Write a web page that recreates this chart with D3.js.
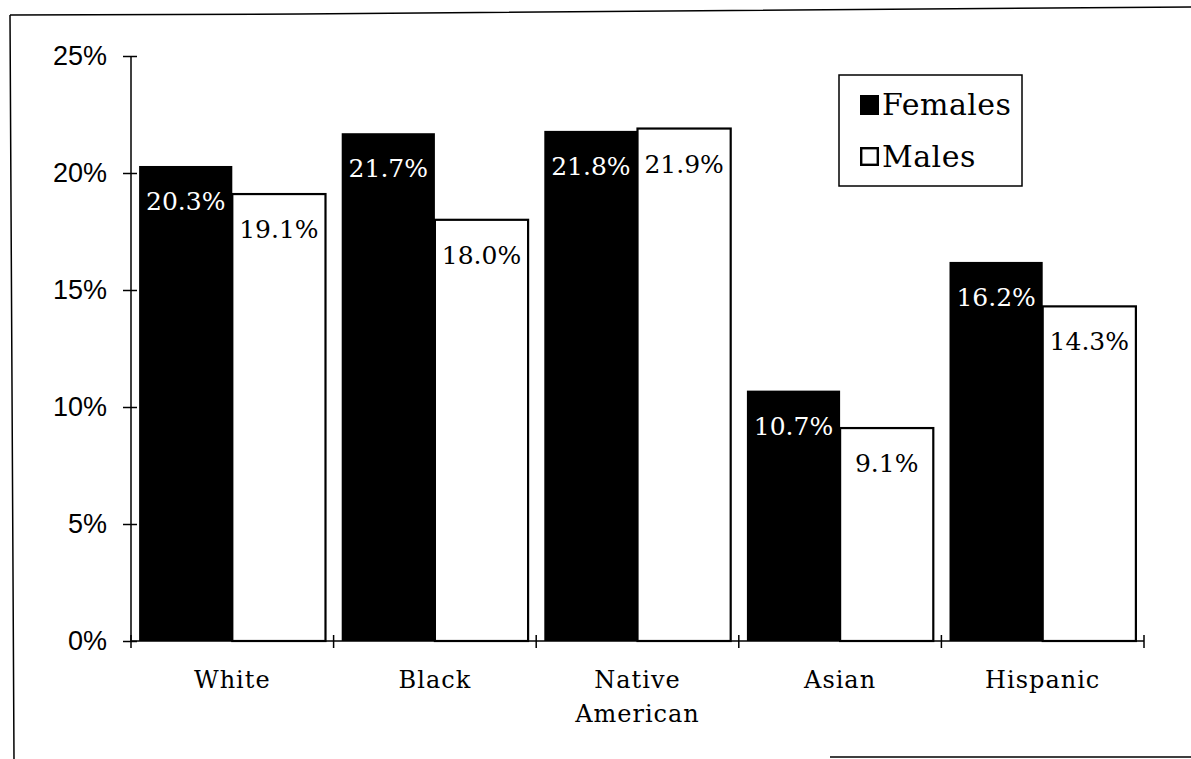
<!DOCTYPE html>
<html>
<head>
<meta charset="utf-8">
<script src="https://cdn.jsdelivr.net/npm/d3@7"></script>
<style>
  body { margin: 0; background: #fff; }
  svg { display: block; }
</style>
</head>
<body>
<script>
var width = 1191, height = 759;

// data
var categories = ["White", "Black", "Native American", "Asian", "Hispanic"];
var females = [20.3, 21.7, 21.8, 10.7, 16.2];
var males = [19.1, 18.0, 21.9, 9.1, 14.3];
var series = ["Females", "Males"];
var yTicks = [0, 5, 10, 15, 20, 25];

var svg = d3.select("body")
  .append("svg")
  .attr("width", width)
  .attr("height", height);

// scanned page frame
svg.append("path")
  .attr("d", "M10,15 L300,14 L1191,7 M10,15 L14,759 M830,757 L1191,757")
  .attr("fill", "none")
  .attr("stroke", "#000")
  .attr("stroke-width", 1.5);

var x = d3.scaleBand()
  .domain(categories)
  .range([131, 1144])
  .paddingInner(0.08)
  .paddingOuter(0.04);

var x1 = d3.scaleBand()
  .domain(series)
  .range([0, x.bandwidth()]);

var y = d3.scaleLinear()
  .domain([0, 25])
  .range([641, 56]);

var rows = categories.map(function (c, i) {
  return { cat: c, values: [
    { key: "Females", v: females[i] },
    { key: "Males", v: males[i] }
  ]};
});

// bars
var g = svg.selectAll("g.cat")
  .data(rows)
  .enter()
  .append("g")
  .attr("class", "cat")
  .attr("transform", d => "translate(" + x(d.cat) + ",0)");

g.selectAll("rect")
  .data(d => d.values)
  .enter()
  .append("rect")
  .attr("x", d => x1(d.key))
  .attr("y", d => y(d.v))
  .attr("width", x1.bandwidth())
  .attr("height", d => y(0) - y(d.v))
  .attr("fill", d => d.key === "Females" ? "#000" : "#fff")
  .attr("stroke", d => d.key === "Females" ? "none" : "#000")
  .attr("stroke-width", 2.2);

g.selectAll("text")
  .data(d => d.values)
  .enter()
  .append("text")
  .attr("x", d => x1(d.key) + x1.bandwidth() / 2)
  .attr("y", d => y(d.v) + 44)
  .attr("text-anchor", "middle")
  .attr("font-family", "DejaVu Serif")
  .attr("font-size", 25)
  .attr("fill", d => d.key === "Females" ? "#fff" : "#000")
  .text(d => d.v.toFixed(1) + "%");

// y axis, ticks cross the line
var yAxis = svg.append("g")
  .attr("transform", "translate(131,0)")
  .call(d3.axisLeft(y).tickValues(yTicks).tickSize(8).tickPadding(16)
    .tickFormat(d => d + "%"));
yAxis.select(".domain").attr("d", "M0," + y(25) + "V" + y(0)).attr("stroke-width", 1.5);
yAxis.selectAll(".tick line").attr("x1", 6).attr("stroke-width", 1.5);
yAxis.selectAll(".tick text")
  .attr("font-family", "Liberation Sans")
  .attr("font-size", 27)
  .attr("fill", "#000");

// x axis with ticks at band boundaries
var bounds = categories.map(c => x(c) - (x.step() - x.bandwidth()) / 2);
bounds.push(x.range()[1]);
var xg = svg.append("g");
xg.append("line")
  .attr("x1", x.range()[0]).attr("x2", x.range()[1])
  .attr("y1", y(0)).attr("y2", y(0))
  .attr("stroke", "#000").attr("stroke-width", 1.5);
xg.selectAll("line.tk")
  .data(bounds)
  .enter()
  .append("line")
  .attr("class", "tk")
  .attr("x1", d => d).attr("x2", d => d)
  .attr("y1", y(0) - 6).attr("y2", y(0) + 7)
  .attr("stroke", "#000").attr("stroke-width", 1.5);

var lab = xg.selectAll("text")
  .data(categories)
  .enter()
  .append("text")
  .attr("x", d => x(d) + x.bandwidth() / 2)
  .attr("y", 688)
  .attr("text-anchor", "middle")
  .attr("font-family", "DejaVu Serif")
  .attr("font-size", 24)
  .attr("letter-spacing", 1);
lab.each(function (d) {
  var words = d.split(" ");
  var t = d3.select(this);
  words.forEach(function (w, i) {
    t.append("tspan")
      .attr("x", x(d) + x.bandwidth() / 2)
      .attr("dy", i ? 34 : 0)
      .text(w);
  });
});

// legend
var legend = svg.append("g");
legend.append("rect")
  .attr("x", 839).attr("y", 75)
  .attr("width", 183).attr("height", 111)
  .attr("fill", "#fff").attr("stroke", "#000").attr("stroke-width", 1.5);
var li = legend.selectAll("g.item")
  .data(series)
  .enter()
  .append("g")
  .attr("class", "item")
  .attr("transform", (d, i) => "translate(860," + (95 + i * 52) + ")");
li.append("rect")
  .attr("x", d => d === "Females" ? 0 : 1.2)
  .attr("y", d => d === "Females" ? 0 : 1.2)
  .attr("width", d => d === "Females" ? 19 : 16.6)
  .attr("height", d => d === "Females" ? 20 : 16.6)
  .attr("fill", d => d === "Females" ? "#000" : "#fff")
  .attr("stroke", d => d === "Females" ? "none" : "#000")
  .attr("stroke-width", 2.4);
li.append("text")
  .attr("x", 22)
  .attr("y", 20)
  .attr("font-family", "DejaVu Serif")
  .attr("font-size", 30)
  .attr("letter-spacing", 0.5)
  .text(d => d);
</script>
</body>
</html>
